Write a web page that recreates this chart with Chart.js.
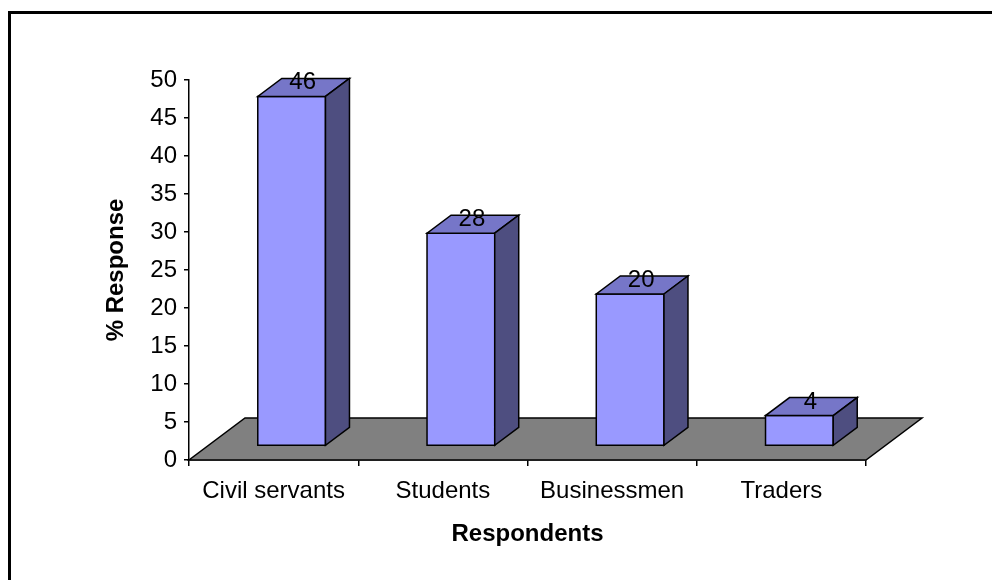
<!DOCTYPE html>
<html lang="en">

<head>
    <meta charset="UTF-8">
    <title>Respondents</title>
    <script src="https://cdn.jsdelivr.net/npm/chart.js"></script>
    <style>
        body {
            margin: 0;
            background: #fff;
            overflow: hidden;
        }

        .moldura {
            position: absolute;
            left: 8px;
            top: 11px;
            width: 1000px;
            height: 600px;
            border: 3px solid #000;
        }

        #grafico {
            position: absolute;
            left: 0;
            top: 0;
        }
    </style>
</head>

<body>
    <div class="moldura"></div>
    <canvas id="grafico" width="992" height="580"></canvas>

    <script>
        // dados
        const categorias = ['Civil servants', 'Students', 'Businessmen', 'Traders'];
        const valores = [46, 28, 20, 4];
        const marcasY = [0, 5, 10, 15, 20, 25, 30, 35, 40, 45, 50];

        const fonte = "'Liberation Sans', Arial, sans-serif";

        // profundidade do piso e das colunas (efeito 3D)
        const PISO = { dx: 56, dy: 42 };
        const FRENTE = { dx: 18, dy: 14 };
        const FUNDO = { dx: 24, dy: 18 };

        const cores = {
            frente: '#9999FF',
            topo: '#7676C8',
            lado: '#4E4E80',
            piso: '#808080'
        };

        function poligono(ctx, pts, cor) {
            ctx.beginPath();
            ctx.moveTo(pts[0][0], pts[0][1]);
            for (let i = 1; i < pts.length; i++) ctx.lineTo(pts[i][0], pts[i][1]);
            ctx.closePath();
            ctx.fillStyle = cor;
            ctx.fill();
            ctx.stroke();
        }

        // desenha o piso cinza e as colunas em caixa, no lugar das barras normais
        const caixas3d = {
            id: 'caixas3d',
            beforeDatasetsDraw(chart) {
                const ctx = chart.ctx;
                const area = chart.chartArea;
                ctx.save();
                ctx.strokeStyle = '#000';
                ctx.lineWidth = 1.5;
                ctx.lineJoin = 'miter';

                poligono(ctx, [
                    [area.left, area.bottom],
                    [area.right, area.bottom],
                    [area.right + PISO.dx, area.bottom - PISO.dy],
                    [area.left + PISO.dx, area.bottom - PISO.dy]
                ], cores.piso);

                const meta = chart.getDatasetMeta(0);
                meta.data.forEach(function (barra, i) {
                    const w = barra.width;
                    const x0 = barra.x - w / 2 + FRENTE.dx;
                    const x1 = x0 + w;
                    const yb = barra.base - FRENTE.dy;
                    const yt = barra.y - FRENTE.dy;

                    poligono(ctx, [[x0, yt], [x1, yt], [x1, yb], [x0, yb]], cores.frente);
                    poligono(ctx, [[x0, yt], [x1, yt], [x1 + FUNDO.dx, yt - FUNDO.dy], [x0 + FUNDO.dx, yt - FUNDO.dy]], cores.topo);
                    poligono(ctx, [[x1, yt], [x1 + FUNDO.dx, yt - FUNDO.dy], [x1 + FUNDO.dx, yb - FUNDO.dy], [x1, yb]], cores.lado);

                    // rótulo com o valor
                    ctx.fillStyle = '#000';
                    ctx.font = '24px ' + fonte;
                    ctx.textAlign = 'center';
                    ctx.textBaseline = 'alphabetic';
                    ctx.fillText(String(valores[i]), x0 + w / 2 + FUNDO.dx / 2 - 1, yt - FUNDO.dy / 2 + 2);
                });

                ctx.restore();
                return false;
            }
        };

        const config = {
            type: 'bar',
            data: {
                labels: categorias,
                datasets: [{
                    label: '% Response',
                    data: valores,
                    backgroundColor: cores.frente,
                    categoryPercentage: 0.4,
                    barPercentage: 1
                }]
            },
            options: {
                responsive: false,
                animation: false,
                layout: {
                    padding: { left: 0, top: 80, right: 126, bottom: 0 }
                },
                plugins: {
                    legend: { display: false },
                    tooltip: { enabled: false }
                },
                scales: {
                    x: {
                        afterFit: function (scale) { scale.height = 120; },
                        grid: {
                            offset: true,
                            drawOnChartArea: false,
                            tickLength: 6,
                            color: '#000',
                            lineWidth: 1.5
                        },
                        border: { color: '#000', width: 1.5 },
                        ticks: {
                            color: '#000',
                            padding: 11,
                            maxRotation: 0,
                            font: { family: fonte, size: 24 }
                        },
                        title: {
                            display: true,
                            text: 'Respondents',
                            color: '#000',
                            padding: { top: 0, bottom: 31 },
                            font: { family: fonte, size: 24, weight: 'bold' }
                        }
                    },
                    y: {
                        min: 0,
                        max: 50,
                        afterFit: function (scale) { scale.width = 189; },
                        afterBuildTicks: function (scale) {
                            scale.ticks = marcasY.map(function (v) { return { value: v }; });
                        },
                        grid: {
                            drawOnChartArea: false,
                            tickLength: 5,
                            color: '#000',
                            lineWidth: 1.5
                        },
                        border: { color: '#000', width: 1.5 },
                        ticks: {
                            color: '#000',
                            padding: 7,
                            font: { family: fonte, size: 24 }
                        },
                        title: {
                            display: true,
                            text: '% Response',
                            color: '#000',
                            padding: { top: 102, bottom: 0 },
                            font: { family: fonte, size: 24, weight: 'bold' }
                        }
                    }
                }
            },
            plugins: [caixas3d]
        };

        new Chart(document.getElementById('grafico'), config);
    </script>
</body>

</html>
